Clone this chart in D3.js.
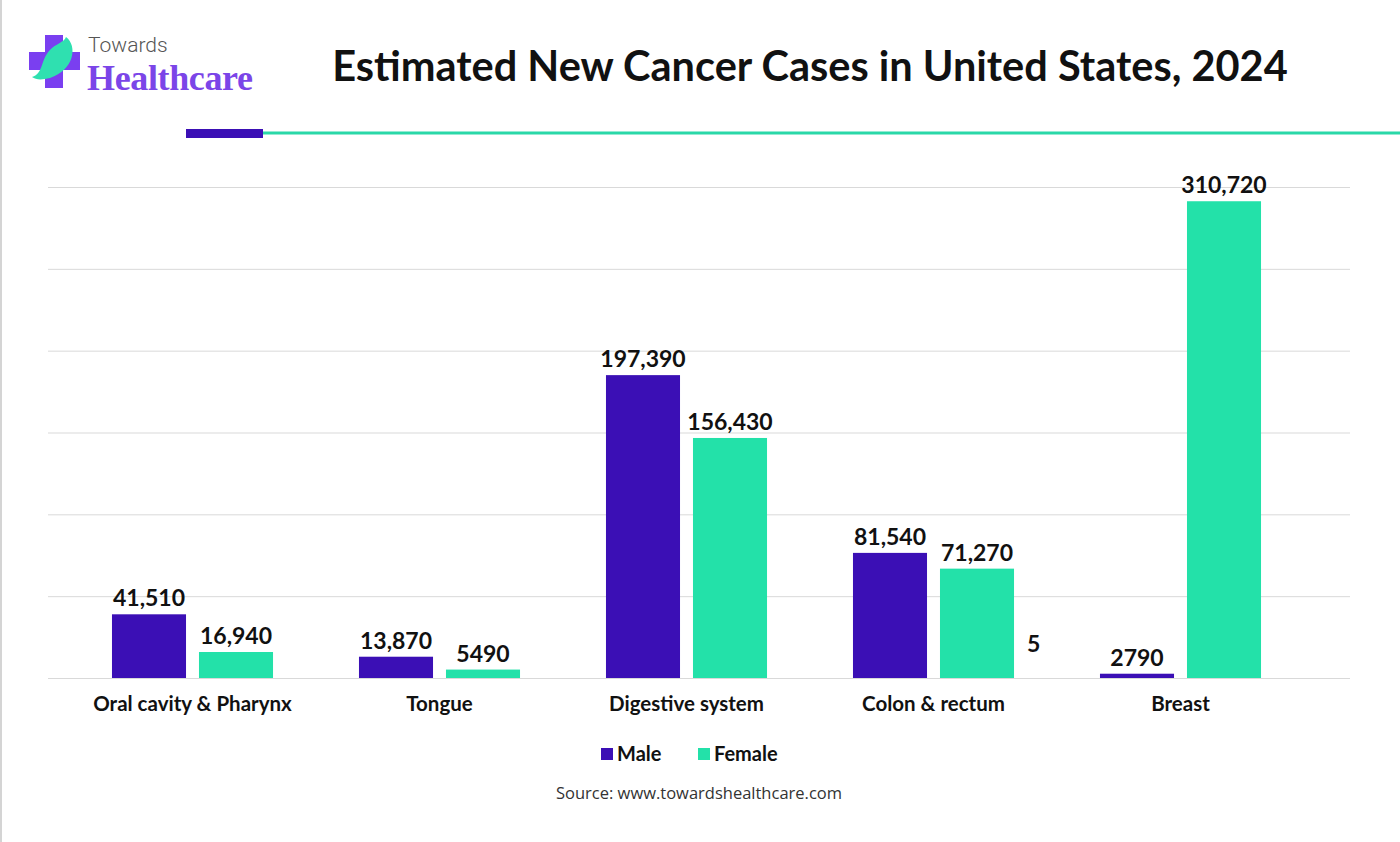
<!DOCTYPE html>
<html>
<head>
<meta charset="utf-8">
<script src="https://cdn.jsdelivr.net/npm/d3@7"></script>
<style>
  body { margin: 0; background: #fff; }
  svg { display: block; }
</style>
</head>
<body>
<svg id="chart"></svg>
<script>
// data
var categories = ["Oral cavity & Pharynx", "Tongue", "Digestive system", "Colon & rectum", "Breast"];
var series = ["Male", "Female"];
var maleValues = [41510, 13870, 197390, 81540, 2790];
var femaleValues = [16940, 5490, 156430, 71270, 310720];
var strayLabels = [{category: "Colon & rectum", text: "5"}];
var colors = {Male: "#3b0fb5", Female: "#23e1a9"};

var width = 1400, height = 842;
var yMax = 320000;
var gridCount = 6;

var svg = d3.select("#chart")
    .attr("width", width)
    .attr("height", height);

svg.append("rect").attr("width", width).attr("height", height).attr("fill", "#fff");
svg.append("line")
    .attr("x1", 1).attr("x2", 1).attr("y1", 0).attr("y2", height)
    .attr("stroke", "#d4d4d4").attr("stroke-width", 2);

// logo
var logo = svg.append("g");
logo.append("path")
    .attr("d", "M45,35 H63 V52 H80 V70 H63 V88 H45 V70 H29 V52 H45 Z")
    .attr("fill", "#7a3ff0");
logo.append("path")
    .attr("d", "M66,37 C78,46 74,70 50,78 C42,80 36,80 32,77 C44,74 40,58 52,48 C58,43 64,42 66,37 Z")
    .attr("fill", "#2fe0b0");
logo.append("text")
    .attr("x", 88).attr("y", 52)
    .attr("font-family", "Roboto, 'Open Sans', sans-serif")
    .attr("font-weight", 300)
    .attr("font-size", 21)
    .attr("fill", "#555")
    .text("Towards");
logo.append("text")
    .attr("x", 87).attr("y", 90)
    .attr("font-family", "'Liberation Serif', 'DejaVu Serif', serif")
    .attr("font-weight", "bold")
    .attr("font-size", 36)
    .attr("fill", "#7b45e8")
    .attr("textLength", 166)
    .text("Healthcare");

// title
svg.append("text")
    .attr("x", 810).attr("y", 81)
    .attr("text-anchor", "middle")
    .attr("font-family", "Lato, 'Open Sans', sans-serif")
    .attr("font-weight", "bold")
    .attr("font-size", 41.5)
    .attr("fill", "#111")
    .text("Estimated New Cancer Cases in United States, 2024");

// header rule
svg.append("line")
    .attr("x1", 263).attr("x2", 1400).attr("y1", 133).attr("y2", 133)
    .attr("stroke", "#2ad8a8").attr("stroke-width", 3);
svg.append("rect")
    .attr("x", 186).attr("y", 129).attr("width", 77).attr("height", 9)
    .attr("fill", "#3b0fb5");

// scales
var x0 = d3.scaleBand()
    .domain(categories)
    .range([69, 1304])
    .paddingInner(0.348)
    .paddingOuter(0.174);

var x1 = d3.scaleBand()
    .domain(series)
    .range([0, x0.bandwidth()])
    .paddingInner(0.149);

var y = d3.scaleLinear()
    .domain([0, yMax])
    .range([678, 187]);

// gridlines
var gridTicks = d3.range(0, gridCount + 1).map(function(i) { return i * yMax / gridCount; });
var yAxis = d3.axisLeft(y)
    .tickValues(gridTicks)
    .tickSize(-(1350 - 48))
    .tickFormat("");
var grid = svg.append("g")
    .attr("transform", "translate(48,0)")
    .call(yAxis);
grid.select(".domain").remove();
grid.selectAll(".tick line").attr("stroke", "#d9d9d9").attr("stroke-width", 1);

var rows = categories.map(function(c, i) {
    return {category: c, Male: maleValues[i], Female: femaleValues[i]};
});

var groups = svg.append("g").selectAll("g")
    .data(rows)
    .join("g")
    .attr("transform", function(d) { return "translate(" + x0(d.category) + ",0)"; });

groups.selectAll("rect")
    .data(function(d) { return series.map(function(s) { return {key: s, value: d[s]}; }); })
    .join("rect")
    .attr("x", function(d) { return x1(d.key); })
    .attr("y", function(d) { return y(d.value); })
    .attr("width", x1.bandwidth())
    .attr("height", function(d) { return y(0) - y(d.value); })
    .attr("fill", function(d) { return colors[d.key]; });

var fmt = function(v) { return v >= 10000 ? d3.format(",")(v) : String(v); };

groups.selectAll("text.val")
    .data(function(d) { return series.map(function(s) { return {key: s, value: d[s]}; }); })
    .join("text")
    .attr("class", "val")
    .attr("x", function(d) { return x1(d.key) + x1.bandwidth() / 2; })
    .attr("y", function(d) { return y(d.value) - 8; })
    .attr("text-anchor", "middle")
    .attr("font-family", "Lato, 'Open Sans', sans-serif")
    .attr("font-weight", "bold")
    .attr("font-size", 23)
    .attr("fill", "#111")
    .text(function(d) { return fmt(d.value); });

// stray label next to colon & rectum
svg.selectAll("text.stray")
    .data(strayLabels)
    .join("text")
    .attr("class", "stray")
    .attr("x", function(d) { return x0(d.category) + x1.step() * 2; })
    .attr("y", y(0) - 26)
    .attr("font-family", "Lato, 'Open Sans', sans-serif")
    .attr("font-weight", "bold")
    .attr("font-size", 23)
    .attr("fill", "#111")
    .text(function(d) { return d.text; });

// category labels
var xAxis = d3.axisBottom(x0).tickSize(0).tickPadding(18);
var xg = svg.append("g")
    .attr("transform", "translate(0,678)")
    .call(xAxis);
xg.select(".domain").remove();
xg.selectAll("text")
    .attr("font-family", "Lato, 'Open Sans', sans-serif")
    .attr("font-weight", "bold")
    .attr("font-size", 20.5)
    .attr("fill", "#111");

// legend
var legend = svg.append("g").attr("transform", "translate(601,754)");
var legendX = [0, 97];
series.forEach(function(s, i) {
    var g = legend.append("g").attr("transform", "translate(" + legendX[i] + ",0)");
    g.append("rect").attr("x", 0).attr("y", -6).attr("width", 12).attr("height", 12).attr("fill", colors[s]);
    g.append("text")
        .attr("x", 16).attr("y", 7)
        .attr("font-family", "Lato, 'Open Sans', sans-serif")
        .attr("font-weight", "bold")
        .attr("font-size", 20)
        .attr("fill", "#111")
        .text(s);
});

// source
svg.append("text")
    .attr("x", 699).attr("y", 799)
    .attr("text-anchor", "middle")
    .attr("font-family", "'Open Sans', sans-serif")
    .attr("font-size", 16.5)
    .attr("fill", "#333")
    .text("Source: www.towardshealthcare.com");
</script>
</body>
</html>
